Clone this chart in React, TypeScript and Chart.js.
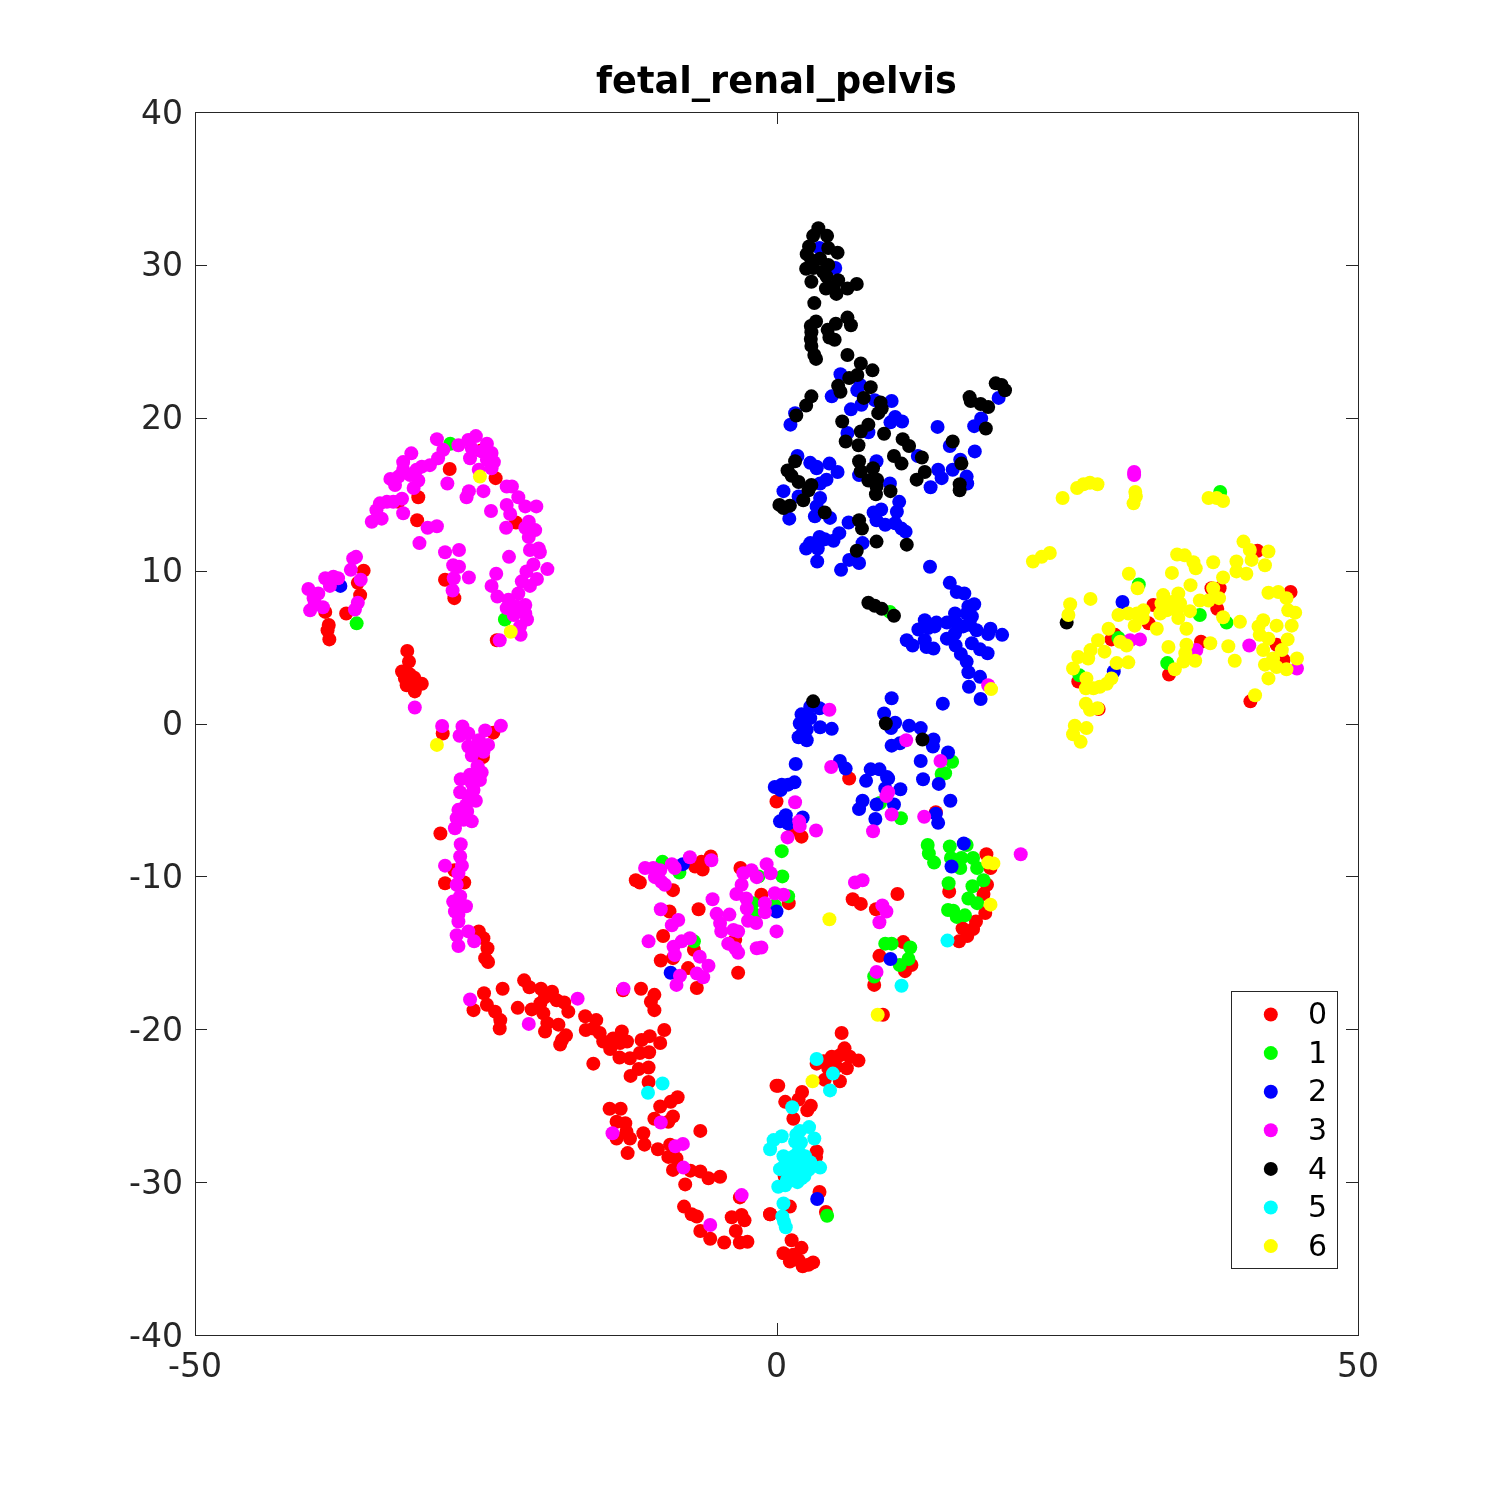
import React, { useEffect, useRef } from "react";
import { Chart, registerables } from "chart.js";

Chart.register(...registerables);

const titleText = "fetal_renal_pelvis";
const labels = ["0", "1", "2", "3", "4", "5", "6"];
const colors = ["#ff0000", "#00ff00", "#0000ff", "#ff00ff", "#000000", "#00ffff", "#ffff00"];

const series0: number[][] = [
[-28.1,16.65],[-24.15,16.05],[-30.8,14.8],[-32.5,14.5],[-30.9,13.3],[-22.4,13.15],[-25.4,17.85],[-35.5,10],[-35.8,8.4],[-37,7.2],[-36,9.2],[-38.8,7.3],[-38.5,6.45],[-38.6,6.1],[-38.45,5.5],[-28.5,9.4],[-27.7,8.2],[-24.05,5.45],
[-31.75,4.75],[-31.6,4.05],[-32.2,3.4],[-31.5,3.2],[-31.15,3],[-31.8,2.5],[-31.2,2.75],[-30.5,2.6],[-31.1,2.1],[-31.95,2.95],[-28.7,-0.65],[-24.35,-0.6],[-25.25,-2.2],[-28.9,-7.2],[-27.7,-9.6],[-28.5,-10.45],[-26.85,-10.4],[-25.6,-13.6],[-25.2,-14.05],[-24.85,-14.7],[-25.05,-15.35],[-24.8,-15.6],
[-25.15,-17.65],[-23.55,-17.35],[-26.05,-18.75],[-24.9,-18.4],[-24.2,-18.85],[-23.75,-19.4],[-23.8,-19.95],[-21.7,-16.8],[-21.25,-17.25],[-20.25,-17.35],[-19.3,-17.55],[-19.9,-17.9],[-18.9,-18.1],[-18.25,-18.25],[-17.9,-18.85],[-20.3,-18.3],[-21.05,-18.7],[-22.25,-18.6],[-20.05,-18.95],[-19.7,-19.6],[-18.75,-19.7],[-19.9,-20.15],[-18.1,-20.4],[-18.45,-20.7],[-18.6,-21],
[-16.45,-19.15],[-15.5,-19.4],[-16.4,-20.05],[-15.75,-19.95],[-15.2,-20.25],[-14.9,-20.8],[-14.05,-20.6],[-13.3,-20.15],[-12.85,-20.8],[-13.45,-20.9],[-14.3,-21.3],[-13.5,-21.85],[-12.6,-21.9],[-11.75,-21.55],[-10.95,-21.5],[-11.6,-20.7],[-10.9,-20.45],[-10,-20.9],[-9.65,-20.05],[-15.75,-22.25],[-12.55,-23.05],[-11.85,-22.6],[-11,-22.5],[-11,-23.45],[-8.5,-24.45],[-9.1,-24.75],[-10,-25.05],[-8.9,-25.7],[-10.5,-25.85],[-9.3,-26.05],[-14.35,-25.2],[-13.4,-25.2],[-13.75,-26.05],[-13,-26.15],[-12.9,-26.7],[-13.75,-27.15],[-12.6,-27.15],[-11.45,-26.8],[-11.35,-27.55],[-12.8,-28.1],[-10.2,-27.85],[-6.55,-26.65],[-9.15,-27.55],[-9.3,-28.35],[-8.6,-28.45],[-8.9,-29.2],[-7.4,-29.25],[-6.55,-29.3],[-5.85,-29.75],[-4.85,-29.65],[-7.85,-30.15],[-7.95,-31.6],[-7.3,-32.1],[-6.85,-32.25],[-6.55,-33.2],[-5.7,-33.7],[-4.5,-33.95],[-3.85,-32.3],[-3,-32.15],[-2.75,-32.5],[-3.5,-33.2],[-3.15,-33.95],[-2.5,-33.9],[-0.55,-32.1],[-3.15,-31],[0,-23.7],[-13.2,-17.45],[-11.65,-17.35],[-10.5,-17.75],[-10.8,-18.2],[-10.5,-18.75],
[-12.1,-10.25],[-11.75,-10.4],[-8.9,-10.9],[-6.45,-9.05],[-7,-9.35],[-6.35,-9.55],[-5.65,-8.7],[-3.1,-9.45],[-1.3,-11.2],[1.05,-11.75],[-9.2,-12.3],[-6.7,-12.15],[-9.75,-13.9],[-7.1,-14.8],[-8.9,-15.35],[-9.95,-15.5],[-7.6,-16],[-6.85,-17.3],[-3.3,-16.3],[-3.55,-14.15],
[5.6,-20.25],[5.85,-21.25],[4.75,-21.8],[5.45,-21.7],[6.3,-21.8],[7.05,-22.05],[6.05,-22.55],[5.15,-22.45],[4.05,-22.1],[3.45,-22.25],[4.45,-22.55],[5.45,-23.4],[4.15,-23.3],[0.15,-23.7],[2.2,-24.1],[0.75,-24.75],[1.9,-24.6],[2.95,-25],[2.65,-25.3],[1.45,-25.85],[3.45,-28],[3.4,-28.35],[0.7,-29.6],[3.7,-30.65],[1.15,-31.6],[-0.55,-32.1],[4.25,-31.95],[1.3,-33.8],[0.6,-34.65],[2.15,-34.3],[1.45,-34.75],[1.9,-35.1],[1.15,-35.2],[2.25,-35.5],[3.15,-35.25],[2.75,-35.4],
[0,-5.1],[6.25,-3.6],[2.15,-7.4],[1.45,-6.95],[13.7,-5.8],[18.05,-8.55],[18.4,-9.45],[14.85,-11],[18.1,-10.55],[17.8,-11.15],[17.95,-12.4],[17.15,-12.95],[16.9,-13.45],[16,-13.4],[16.4,-13.9],[15.7,-14.25],[6.55,-11.5],[7.25,-11.8],[10.4,-11.15],[8.55,-12.15],[10.9,-14.3],[8.85,-15.2],[11.6,-15.8],[11.05,-16.2],[8.4,-17.1],[9.15,-19.05],
[32.4,7.75],[32,6.55],[37.4,8.85],[38.1,8.85],[37.9,7.5],[44.2,8.6],[41.35,11.3],[28.8,5.5],[29.1,5.8],[36.5,5.35],[33.75,3.2],[40.75,1.45],[27.7,0.95],[43,5.15],[43.6,4.15],[25.95,2.75],
];

const series1: number[][] = [
[-28.05,18.3],[-36.1,6.55],[-23.35,6.8],[-9.8,-9.05],[-8.35,-9.75],[-7.1,-14.25],[0.45,-8.35],[0.5,-10],[-1.55,-10],[-2.05,-11.75],[-1.85,-12.5],[1,-11.3],[-0.15,-11.9],[4.35,-32.2],
[15.1,-2.5],[14.5,-3.25],[14.2,-3.3],[10.7,-6.2],[8.9,-5.2],[13,-7.95],[13.1,-8.5],[13.55,-9.1],[14.9,-8.05],[15,-8.8],[15.9,-8.8],[16.9,-8.8],[17.25,-9.45],[15.8,-9.45],[16.35,-7.95],[14.8,-10.45],[17.8,-10.25],[16.85,-10.65],[16.5,-11.45],[17.25,-11.75],[14.75,-12.2],[15.2,-12.25],[15.5,-12.65],[16.2,-12.55],[9.35,-14.4],[9.9,-14.4],[11.5,-14.65],[11.35,-15.4],[10.6,-15.8],[8.4,-16.55],[9.75,7.3],
[38.15,15.15],[31.15,9.1],[36.4,7.1],[38.7,6.6],[29.4,5.6],[33.6,3.95],[26.05,3.15],
];

const series2: number[][] = [
[-37.5,9],[-8.05,-9.2],[0,-12.3],[-9.1,-16.3],[3.5,-31.1],
[2.9,1.1],[2.15,0.6],[3.7,1],[2,0],[2.9,0.35],[3.75,-0.25],[4.75,-0.35],[2.6,-0.4],[2.15,-0.75],[1.9,-0.9],[2.6,-1.1],
[9.9,1.65],[14.3,1.3],[9.25,0.65],[10.2,0.05],[9.85,-0.3],[11.4,-0.15],[12.4,-0.3],[13.5,-1.05],[13.45,-1.5],[9.9,-1.45],[10.6,-1.3],[14.75,-1.9],[12.4,-2.45],[12.6,-3.65],[13.95,-3.95],[14.95,-5.05],[13.7,-5.9],[13.9,-6.5],
[1.65,-2.65],[5.45,-2.45],[5.95,-2.95],[-0.15,-4.15],[0.45,-4],[1,-4],[1.55,-3.85],[0.35,-4.35],[0.8,-6],[0.3,-6.4],[1,-6.55],[2.25,-6.15],
[8.1,-3],[8.85,-3],[7.7,-3.75],[9.5,-3.5],[9.6,-3.6],[9.35,-4.25],[10.65,-4.3],[7.4,-5.05],[7.1,-5.6],[8.6,-5.3],[10.1,-5.3],[8.5,-6.25],[16.1,-7.85],[15.05,-9.35],[9.8,-15.4],
[3.7,31.1],[5.05,29.8],[5.5,22.85],[4.75,21.4],[6.95,21.8],[7.2,22.15],[6.4,20.55],[7.3,20.85],[8.45,21.15],[9.9,21.1],[10.2,20.05],[9.8,19.7],[10.8,19.75],[13.85,19.4],[1.2,19.55],[1.6,20.3],[6.1,19],[7.9,19.05],[17.6,19.95],[17,19.45],[19.1,21.3],[17.05,17.8],[14.9,18.15],[12.15,17.5],[8.6,17.15],[1.8,17.5],[2.9,17.05],[4.55,17],[3.45,16.8],
[3.45,16.7],[5.25,16.45],[4.3,15.95],[3.75,15.7],[0.6,15.2],[1.9,14.85],[3.75,14.75],[3.45,14.2],[1.1,13.4],[3.3,13.55],[4.6,13.45],[7.1,16.25],[9.75,15.7],[10.55,14.5],[10.35,13.85],[8.35,13.8],[9,14],[8.6,13.3],[9.35,13],[10.2,13.1],[10.75,12.75],[11.1,12.55],[6.2,13.15],[5.4,12.45],[4.9,11.95],[4.15,12.05],[3.7,12.2],[2.9,11.8],[2.55,11.45],[3.55,11.45],[3.5,10.6],[7.4,11.8],[6.25,10.7],[7.1,10.5],[5.55,10.05],[13.2,10.25],[14.9,9.2],[15.5,8.6],[16.15,8.5],[17,7.8],[16.5,7.65],[15.35,7.2],[16.35,7.2],[16.8,7],[12.75,6.75],[13.75,6.6],[14.65,6.6],[12.2,6.15],[13.05,6.25],[13.6,6.35],[15.5,6.55],[16.05,6.35],[16.65,6.45],[17.2,6.1],[18.4,6.2],[18.2,5.85],[19.4,5.8],[11.2,5.45],[11.7,5.1],[12.75,5.45],[12.9,5],[13.5,4.9],[14.65,5.55],[15.35,5.9],[15.4,5.1],[16.8,5.25],[17.5,4.85],[18.15,4.6],[15.85,4.55],[16.35,4.05],[16.5,3.35],[17.5,3.05],[16.55,2.4],[17.55,1.6],
[13.9,16.6],[14.2,16.05],[13.25,15.45],[15.15,16.6],[16.35,16.15],[16.4,15.7],[15.8,17.25],
[29.75,7.95],[29,3.4],
];

const series3: number[][] = [
[-29.2,18.6],[-31.4,17.67],[-32.1,17.1],[-28.65,17.9],[-29.1,17.35],[-29.8,16.9],[-30.5,16.8],[-30.95,16.6],[-32.1,16.6],[-33.2,16],[-32.5,16.15],[-31.5,16.25],[-30.8,15.9],[-32.8,15.6],[-31.2,15.4],[-32.2,14.7],[-32.95,14.5],[-33.5,14.5],[-34.1,14.4],[-34.4,13.95],[-33.95,13.4],[-34.8,13.2],[-32.1,13.75],[-30,12.8],[-29.2,12.9],[-30.7,11.8],
[-27.35,18.2],[-26.5,18.55],[-25.85,18.8],[-24.9,18.3],[-26.2,18],[-25.35,17.8],[-24.5,17.7],[-26.35,17.35],[-24.9,17.25],[-24.3,17.1],[-24.5,16.7],[-25.6,16.6],[-28.3,15.7],[-25.2,15.2],[-26.45,15.2],[-26.65,14.8],[-23.2,15.5],[-22.75,15.5],[-22.2,14.8],[-23.2,14.3],[-21.6,14.2],[-20.65,14.2],[-22.9,13.7],[-24.55,13.9],[-21.3,13.2],[-23.25,12.8],[-20.75,12.65],[-21.6,12.8],[-21.3,12.2],[-21.2,11.35],[-20.45,11.45],[-20.35,11.2],[-23,10.9],[-20.9,10.4],[-19.7,10.1],[-21.5,9.95],[-21.9,9.3],[-20.6,9.45],[-21.2,9],[-24.1,9.8],[-24.5,9],[-24,8.3],[-22.2,8.5],[-23.05,8.1],[-21.6,7.75],[-22.35,7.65],[-23.2,7.55],[-22.6,7.1],[-21.6,7.2],[-21.45,6.8],[-22.05,6.35],[-22,5.8],[-23.8,5.45],
[-28.5,11.2],[-27.3,11.35],[-27.8,10.35],[-27.3,10.25],[-26.45,9.55],[-27.75,9.5],[-27.85,8.7],
[-36.4,10.8],[-36.15,10.9],[-36.6,10.05],[-35.75,9.4],[-36,7.9],[-36.25,7.45],[-38.1,9.6],[-38.8,9.5],[-37.7,9.5],[-38.4,9],[-40.25,8.8],[-39.8,8.2],[-39.4,8.5],[-40.1,7.4],[-39,7.6],[-39.7,7.9],
[-31.1,1.05],[-28.75,-0.16],[-27,-0.2],[-27.25,-0.8],[-26.5,-0.65],[-25.05,-0.45],[-23.7,-0.15],[-26.5,-1.5],[-25.6,-1.1],[-24.8,-1.4],[-26.2,-2.1],[-25.2,-1.85],[-25.7,-1.6],[-25.7,-2.8],[-25.35,-3.2],[-25.5,-3.7],[-26.35,-3.35],[-27.15,-3.65],[-26.2,-3.9],[-26.05,-4.35],[-27.2,-4.5],[-26.5,-4.8],[-25.85,-5.05],[-26.7,-5.35],[-27.35,-5.65],[-26.6,-5.75],[-27.5,-6.2],[-26.2,-6.4],[-26.9,-6.3],[-27.65,-6.85],
[-27.15,-7.9],[-27.2,-8.7],[-27.05,-9.3],[-28.5,-9.3],[-27.35,-9.8],[-27.5,-10.55],[-27.2,-11.3],[-27.8,-11.65],[-26.7,-11.95],[-27.35,-12],[-27.65,-12.3],[-27.35,-12.5],[-27.35,-12.95],[-27.5,-13.85],[-26.5,-13.6],[-26,-14.25],[-27.35,-14.55],
[-26.35,-18.05],[-17.1,-18],[-21.3,-19.65],[-13.15,-17.35],[-9.95,-26.1],[-14.1,-26.8],[-8.7,-27.65],[-8.05,-27.5],[-8,-29.05],[-3,-30.85],[-5.7,-32.8],
[-7.45,-8.75],[-11.3,-9.45],[-10.6,-9.45],[-10,-9.6],[-9,-9.2],[-8.75,-9.45],[-10.45,-10.05],[-9.9,-10.35],[-9.6,-10.55],[-5.6,-8.95],[-5.5,-11.5],[-9.95,-12.15],[-8.45,-12.85],[-9,-13.2],[-11,-14.25],[-7.45,-14.05],[-8.15,-14.25],[-8.85,-14.6],[-8.75,-15.15],[-6.6,-15.25],[-5.85,-15.85],[-6.85,-16.35],[-6.3,-16.6],[-8.3,-16.5],[-8.6,-17.1],
[-2.15,-9.6],[-2.85,-9.8],[-1.7,-10.05],[-0.85,-9.2],[-0.5,-9.8],[-3,-10.55],[-3.45,-11.15],[-2.6,-11.45],[-2.55,-12.1],[-1,-11.75],[-1,-12.35],[-0.15,-11.1],[0.6,-11.2],[-5.15,-12.45],[-4.05,-12.5],[-4.85,-13.05],[-4.75,-13.6],[-3.7,-13.5],[-3.3,-13.6],[-4.15,-14.4],[-3.55,-14.7],[-3.3,-15],[-2.45,-12.9],[-1.75,-13.05],[-1.7,-14.7],[-1.3,-14.65],[0,-13.6],
[4.55,0.9],[11.15,-1.1],[14.1,-2.45],[1.6,-5.15],[4.7,-2.85],[1.95,-6.4],[2,-6.7],[3.4,-7],[0.95,-7.45],[9.6,-4.5],[9.45,-4.75],[9.9,-5.95],[8.3,-7.05],[12.7,-6.1],[21,-8.55],[6.75,-10.4],[7.4,-10.25],[9.1,-11.9],[9.45,-12.3],[8.85,-13],[8.6,-16.25],[18.2,2.5],
[30.75,16.45],[30.75,16.25],[31.25,5.5],[30.4,5.45],[40.65,5.1],[44.75,3.6],[36.1,4.8],
];

const series4: number[][] = [
[3.15,1.45],[9.4,0],[12.55,-1.05],
[3.6,32.4],[3.15,31.9],[4.35,31.9],[2.8,31.2],[4.45,31.1],[5.25,30.8],[2.6,30.7],[3,30.3],[3.75,30.4],[2.55,29.75],[3.15,29.8],[4.45,30],[4,29.55],[4.3,29.25],[3,28.9],[5.3,29],[4.25,28.45],[4.9,28.55],[5.15,28.1],[6.1,28.45],[6.9,28.75],[3.25,27.5],[3.4,26.3],[2.95,26],[6.1,26.55],[6.4,26.05],[5.1,26.15],[4.4,25.75],[3,25.6],[2.95,25.15],[4.55,25.25],[5,25.1],[3,24.7],[3.25,24.1],[3.4,23.85],[6.1,24.1],[7.25,23.55],[8.25,23.1],[6.25,22.6],[6.95,22.8],[5.3,22.1],[8.1,22],[5.5,21.7],[7.5,21.3],[3,21.4],[2.55,20.8],[1.7,20.15],[8.95,21],[9.05,20.6],[8.75,20.3],[5.65,19.75],[7.9,19.55],[7.25,19.1],[9.25,18.95],[5.95,18.45],[7.05,18.2],[10.85,18.6],[11.4,18.15],[15.15,18.45],[10.1,17.5],[10.75,17],[12.5,17.4],[7.1,17.15],[1.6,17.15],[16.6,21.35],[16.7,21.1],[17.55,20.9],[18.2,20.7],[18.85,22.25],[19.35,22.15],[19.65,21.8],[18,19.3],[15.9,17],
[0.95,16.55],[1.3,16.2],[1.9,15.8],[3,15.6],[2.75,15.25],[2.3,14.6],[0.25,14.3],[0.6,14.1],[1.15,14.25],[4.15,13.8],[7.25,16.5],[8.3,16.7],[7.9,15.9],[8.65,15.95],[8.6,15.5],[8.55,15],[9.8,15.2],[12.75,16.45],[12.05,15.95],[15.75,15.65],[15.75,15.25],[7.1,13.3],[7.35,12.75],[8.6,11.9],[11.2,11.7],[6.9,11.3],[7.9,7.9],[8.45,7.7],[9.05,7.5],[10.1,7.05],
[24.95,6.6],
];

const series5: number[][] = [
[-9.8,-23.55],[-11.05,-24.15],[14.7,-14.2],[10.75,-17.15],
[3.45,-21.95],[4.85,-22.9],[4.6,-24],[1.35,-25.1],[2.8,-26.4],[2,-26.65],[0.45,-27],[-0.25,-27.25],[-0.55,-27.85],[3.25,-27.15],[1.6,-27.35],[1.9,-28],[0.6,-28.3],[2.45,-28.3],[1.15,-28.55],[1.75,-28.75],[0.3,-29.15],[3.75,-29.05],[1,-29.2],[2.75,-29.2],[2.15,-29.1],[1.45,-29.55],[2.15,-29.75],[0.9,-29.85],[0.15,-30.3],[0.75,-30.2],[0.6,-31.4],[0.5,-32.25],[0.65,-32.6],[0.8,-32.95],
[1.5,-28.3],[2.4,-29.6],[1.2,-29.9],[1.8,-30],[2.9,-28.7],[0.7,-28.9],[2.1,-27.4],[1.7,-26.9],
];

const series6: number[][] = [
[-25.5,16.15],[-22.85,6],[-29.2,-1.4],[3.1,-23.4],[18.2,-9.1],[18.65,-9.15],[18.4,-11.85],[4.55,-12.8],[8.7,-19.05],[18.45,2.25],
[24.6,14.75],[25.85,15.4],[26.4,15.65],[26.95,15.75],[27.6,15.65],[30.85,15.15],[30.9,14.85],[30.7,14.4],[37.15,14.75],[37.85,14.75],[38.4,14.55],[23.5,11.15],[22.8,10.9],[22.05,10.6],[40.15,11.9],[40.7,11.35],[42.3,11.25],[34.45,11.05],[35.1,11],[35.85,10.55],[36.05,10.15],[37.55,10.55],[39.55,10.6],[40.85,10.7],[42,10.35],[39.55,9.95],[40.4,9.8],[34,9.85],[30.3,9.8],[38.4,9.55],[35.6,9.05],[31.05,8.85],[37.55,8.85],[42.3,8.55],[43.15,8.6],[43.85,8.2],[33.25,8.4],[34.55,8.5],[36.4,8.05],[37.15,8.05],[38.05,8.2],[25.25,7.8],[27,8.15],[25.1,7.1],[33.1,7.85],[34,7.95],[34.7,7.85],[33.55,7.4],[34.4,7.4],[35.55,7.35],[33,7.2],[31.55,7.4],[31,7.2],[30.25,7.2],[29.4,7.1],[31.5,6.9],[30.8,6.4],[34.55,6.9],[38.4,6.95],[39.85,6.65],[44.6,7.25],[44,7.4],[44.3,6.4],[43,6.4],[41.85,6.75],[41.45,6.35],[35.25,6.2],[32.7,6.2],[28.55,6.2],[27.65,5.45],[41.55,5.8],[42.3,5.55],[43.95,5.5],[29.55,5.35],[30.1,5.1],[33.7,5],[35.25,5.15],[37.3,5.25],[38.85,5.05],[41.85,4.8],[43.45,4.8],[27,4.8],[25.95,4.35],[28.2,4.7],[26.8,4.25],[35.15,4.6],[36,4.1],[35,4.05],[30.25,4],[29.25,3.95],[39.4,4.1],[42.7,4.25],[44.75,4.25],[42,3.85],[43,3.7],[43.85,3.55],[25.5,3.6],[34.25,3.55],[42.3,2.95],[26.65,2.95],[28.8,2.95],[28.4,2.6],[27.8,2.4],[27.25,2.3],[26.6,2.3],[41.15,1.85],[26.6,1.3],[26.95,0.9],[27.6,1],[25.65,-0.15],[26.65,-0.3],[25.5,-0.7],[26.15,-1.2],
];

const allSeries = [series0, series1, series2, series3, series4, series5, series6];

const axisColor = "#262626";

const frame = {
  id: "frame",
  beforeDatasetsDraw(chart: any) {
    const { ctx, chartArea: a, scales } = chart;
    ctx.save();
    ctx.strokeStyle = axisColor;
    ctx.lineWidth = 1;
    ctx.strokeRect(Math.round(a.left) + 0.5, Math.round(a.top) + 0.5, Math.round(a.right - a.left), Math.round(a.bottom - a.top));
    ctx.beginPath();
    for (const t of scales.y.ticks) {
      const y = Math.round(scales.y.getPixelForValue(t.value)) + 0.5;
      ctx.moveTo(a.left, y); ctx.lineTo(a.left + 12, y);
      ctx.moveTo(a.right, y); ctx.lineTo(a.right - 12, y);
    }
    for (const t of scales.x.ticks) {
      const x = Math.round(scales.x.getPixelForValue(t.value)) + 0.5;
      ctx.moveTo(x, a.bottom); ctx.lineTo(x, a.bottom - 12);
      ctx.moveTo(x, a.top); ctx.lineTo(x, a.top + 12);
    }
    ctx.stroke();
    ctx.restore();
  },
};

const legendBox = {
  id: "legendBox",
  afterDatasetsDraw(chart: any) {
    const { ctx } = chart;
    const left = 1231.5, top = 991.5, w = 106, h = 277, step = 38.6;
    ctx.save();
    ctx.fillStyle = "#ffffff";
    ctx.strokeStyle = axisColor;
    ctx.lineWidth = 1;
    ctx.fillRect(left, top, w, h);
    ctx.strokeRect(left, top, w, h);
    ctx.font = '30px "DejaVu Sans"';
    ctx.textBaseline = "middle";
    ctx.textAlign = "left";
    labels.forEach((label, i) => {
      const y = 1014.5 + i * step;
      ctx.beginPath();
      ctx.arc(1270.8, y, 7, 0, Math.PI * 2);
      ctx.fillStyle = colors[i];
      ctx.fill();
      ctx.fillStyle = "#000000";
      ctx.fillText(label, 1308, y + 2);
    });
    ctx.restore();
  },
};

export default function App() {
  const ref = useRef<HTMLCanvasElement>(null);
  useEffect(() => {
    const chart = new Chart(ref.current as HTMLCanvasElement, {
      type: "scatter",
      data: {
        datasets: allSeries.map((s, i) => ({
          label: labels[i],
          data: s.map(([x, y]) => ({ x, y })),
          backgroundColor: colors[i],
          borderWidth: 0,
          pointRadius: 7,
          order: allSeries.length - i,
        })),
      },
      options: {
        animation: false,
        responsive: false,
        devicePixelRatio: 1,
        layout: { padding: { left: 0, top: 0, right: 142, bottom: 0 } },
        plugins: {
          legend: { display: false },
          tooltip: { enabled: false },
          title: {
            display: true,
            text: titleText,
            fullSize: false,
            color: "#000000",
            font: { family: '"DejaVu Sans"', size: 36.7, weight: "bold" },
            padding: { top: 61.5, bottom: 6.46 },
          },
        },
        scales: {
          x: {
            type: "linear",
            min: -50,
            max: 50,
            afterFit: (s: any) => { s.height = 165; },
            grid: { display: false },
            border: { display: false },
            ticks: {
              stepSize: 50,
              padding: 6,
              maxRotation: 0,
              color: axisColor,
              font: { family: '"DejaVu Sans"', size: 33 },
              callback: (v: any) => String(v),
            },
          },
          y: {
            type: "linear",
            min: -40,
            max: 40,
            afterFit: (s: any) => { s.width = 195; },
            grid: { display: false },
            border: { display: false },
            ticks: {
              stepSize: 10,
              padding: 4,
              labelOffset: 3,
              color: axisColor,
              font: { family: '"DejaVu Sans"', size: 33 },
              callback: (v: any) => String(v),
            },
          },
        },
      },
      plugins: [frame, legendBox],
    } as any);
    return () => chart.destroy();
  }, []);
  return (
    <canvas
      ref={ref}
      width={1500}
      height={1500}
      style={{ position: "absolute", left: 0, top: 0, display: "block", background: "#fff" }}
    />
  );
}
